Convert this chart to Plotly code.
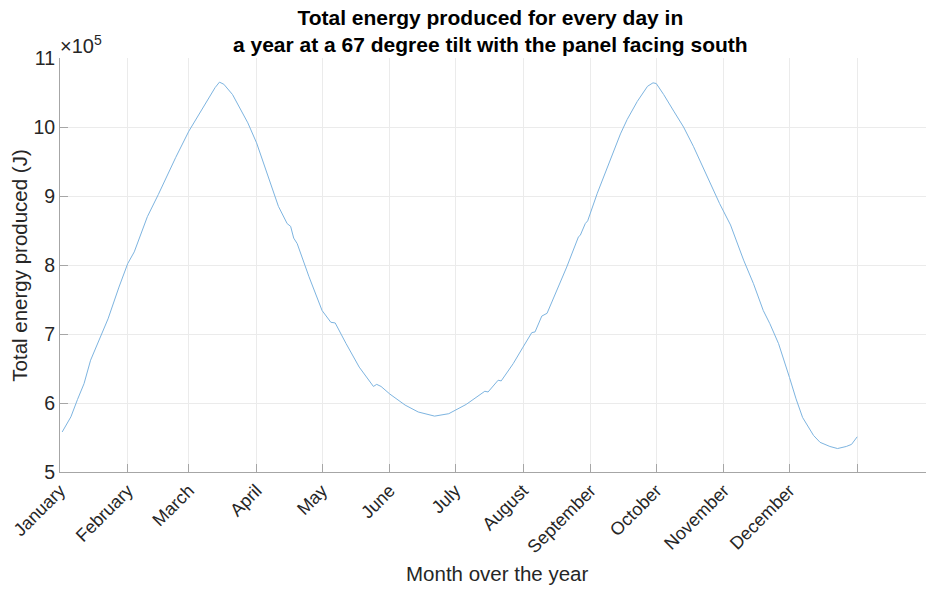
import plotly.graph_objects as go

# Day of year and total energy produced (J)
days = [1, 5, 8, 11, 14, 22, 27, 31, 34, 40, 45, 48, 53, 59, 65, 71, 73, 75, 79, 83, 86, 90,
        95, 100, 104, 105.6, 107, 108.6, 114, 120, 124, 126, 131, 137, 143.5, 145, 147, 151,
        158, 164, 171.5, 178, 186, 194.5, 196, 200.6, 202, 207.5, 212, 216, 217.5, 220.6,
        223, 227.5, 232, 237.4, 238.2, 240.5, 241.6, 246, 252, 256.6, 259.7, 264.3, 269,
        271.5, 273, 276.4, 281, 285.5, 290, 294.6, 298.4, 302, 307, 313, 317.5, 322, 325,
        329, 334, 337, 340, 345, 348, 352.5, 356, 360, 362.4, 365]
energy = [5.58, 5.80, 6.05, 6.28, 6.62, 7.22, 7.68, 8.02, 8.19, 8.70, 9.02, 9.23, 9.56, 9.94,
          10.25, 10.57, 10.65, 10.62, 10.47, 10.23, 10.06, 9.77,
          9.31, 8.85, 8.60, 8.56, 8.39, 8.31, 7.83, 7.34, 7.17, 7.16, 6.86, 6.52, 6.24, 6.27,
          6.24, 6.13, 5.97, 5.87, 5.81, 5.845, 5.98, 6.17, 6.16, 6.33, 6.32, 6.57, 6.81, 7.02,
          7.03, 7.26, 7.30, 7.63, 7.97, 8.41, 8.43, 8.60, 8.64, 9.04, 9.52, 9.90, 10.11, 10.37,
          10.59, 10.64, 10.63, 10.47, 10.23, 10.00, 9.72, 9.40, 9.14, 8.89, 8.58, 8.07, 7.73,
          7.34, 7.15, 6.86, 6.37, 6.06, 5.79, 5.53, 5.43, 5.37, 5.34, 5.37, 5.40, 5.51]
energy_j = [v * 1e5 for v in energy]

month_starts = [0, 31, 59, 90, 120, 151, 181, 212, 243, 273, 304, 334, 365]
month_labels = ["January", "February", "March", "April", "May", "June", "July",
                "August", "September", "October", "November", "December", ""]
y_ticks = [5e5, 6e5, 7e5, 8e5, 9e5, 10e5, 11e5]
y_labels = ["5", "6", "7", "8", "9", "10", "11"]

FONT = "Liberation Sans, Arial, Helvetica, sans-serif"
W, H = 926, 590
ML, MR, MT = 60, 0, 58.3
MB = H - 472.3
PW, PH = W - ML - MR, H - MT - MB


def px_x(px):  # page pixel -> paper
    return (px - ML) / PW


def px_y(py):
    return (H - MB - py) / PH


fig = go.Figure()
fig.add_trace(go.Scatter(x=days, y=energy_j, mode="lines",
                         line=dict(color="#7db4e0", width=1), showlegend=False,
                         hoverinfo="skip"))

fig.update_layout(
    width=W, height=H,
    margin=dict(l=ML, r=MR, t=MT, b=MB, autoexpand=False),
    paper_bgcolor="white", plot_bgcolor="white",
    font=dict(family=FONT, color="#262626"),
    xaxis=dict(range=[0, 396.5], tickmode="array", tickvals=month_starts,
               ticktext=month_labels, tickangle=-45, automargin=False,
               tickfont=dict(size=18, color="#262626", family=FONT),
               showgrid=True, gridcolor="#ebebeb", gridwidth=1,
               showline=True, linecolor="#a6a6a6", linewidth=1,
               ticks="inside", ticklen=8, tickcolor="#a6a6a6",
               zeroline=False, mirror=False),
    yaxis=dict(range=[5e5, 11e5], tickmode="array", tickvals=y_ticks,
               ticktext=y_labels, automargin=False,
               tickfont=dict(size=19.5, color="#262626", family=FONT),
               showgrid=True, gridcolor="#ebebeb", gridwidth=1,
               showline=True, linecolor="#a6a6a6", linewidth=1,
               ticks="inside", ticklen=8, tickcolor="#a6a6a6",
               zeroline=False),
    annotations=[
        dict(text="<b>Total energy produced for every day in<br>a year at a 67 degree tilt with the panel facing south</b>",
             x=px_x(490), y=px_y(31), xref="paper", yref="paper", showarrow=False,
             font=dict(size=21, family=FONT, color="black"), align="center",
             yanchor="middle", xanchor="center"),
        dict(text="Month over the year", x=px_x(497), y=px_y(574), xref="paper", yref="paper",
             showarrow=False, font=dict(size=20.5, family=FONT, color="#262626"),
             xanchor="center", yanchor="middle"),
        dict(text="Total energy produced (J)", x=px_x(20), y=px_y(266), xref="paper", yref="paper",
             showarrow=False, textangle=-90, font=dict(size=20.5, family=FONT, color="#262626"),
             xanchor="center", yanchor="middle"),
        dict(text="×10<sup>5</sup>", x=px_x(58), y=px_y(45), xref="paper", yref="paper",
             showarrow=False, font=dict(size=20, family=FONT, color="#262626"),
             xanchor="left", yanchor="middle"),
    ],
)

fig.write_html("out.html", config={"displayModeBar": False},
               post_script="document.body.style.margin='0';document.body.style.padding='0';"
                           "document.body.style.overflow='hidden';")
